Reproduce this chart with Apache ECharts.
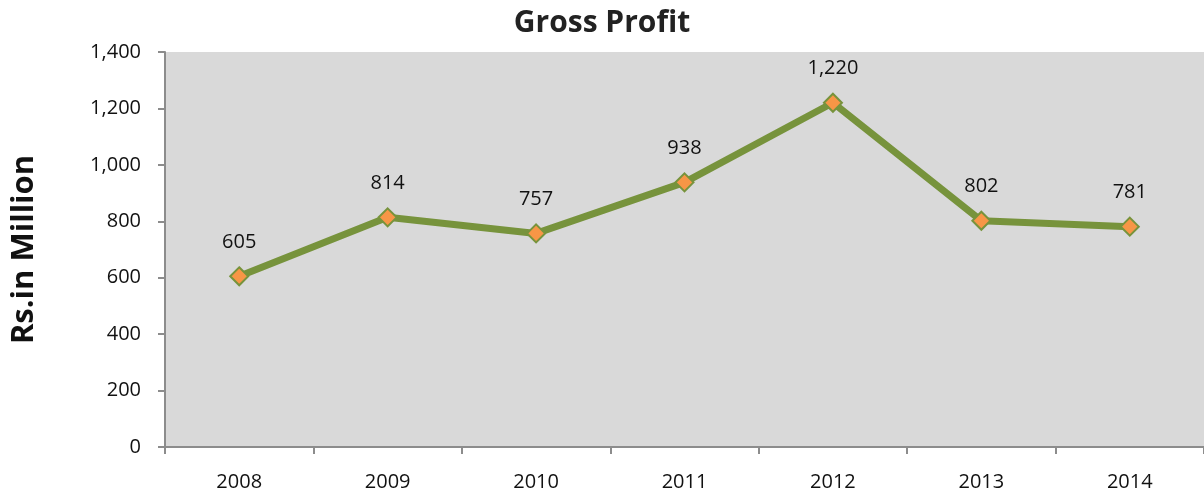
<!DOCTYPE html>
<html>
<head>
<meta charset="utf-8">
<script src="https://cdn.jsdelivr.net/npm/echarts@6/dist/echarts.min.js"></script>
<style>
html,body{margin:0;padding:0;background:#fff;}
#main{width:1204px;height:498px;}
</style>
</head>
<body>
<div id="main"></div>
<script>
var years = ['2008', '2009', '2010', '2011', '2012', '2013', '2014'];
var grossProfit = [605, 814, 757, 938, 1220, 802, 781];
var yTicks = [0, 200, 400, 600, 800, 1000, 1200, 1400];

var myChart = echarts.init(document.getElementById('main'));
var option = {
	title: {
		text: 'Gross Profit',
		left: 'center',
		top: 3,
		textStyle: { fontFamily: 'Open Sans', fontWeight: 'bold', fontSize: 30, color: '#222' }
	},
	grid: {
		left: 165,
		top: 52,
		width: 1043,
		bottom: 51,
		backgroundColor: '#d9d9d9',
		show: true,
		borderWidth: 0
	},
	xAxis: {
		type: 'category',
		data: years,
		boundaryGap: true,
		axisLine: { lineStyle: { color: '#8c8c8c', width: 2 } },
		axisTick: { show: true, length: 7, lineStyle: { color: '#8c8c8c', width: 2 } },
		axisLabel: { color: '#111', fontFamily: 'Open Sans', fontSize: 20, margin: 25 }
	},
	yAxis: {
		type: 'value',
		min: yTicks[0],
		max: yTicks[yTicks.length - 1],
		interval: 200,
		name: 'Rs.in Million',
		nameLocation: 'middle',
		nameGap: 125,
		nameTextStyle: { fontFamily: 'Open Sans', fontWeight: 'bold', fontSize: 31, color: '#111' },
		splitLine: { show: false },
		axisLine: { show: true, lineStyle: { color: '#8c8c8c', width: 2 } },
		axisTick: { show: true, length: 7, lineStyle: { color: '#8c8c8c', width: 2 } },
		axisLabel: {
			color: '#111', fontFamily: 'Open Sans', fontSize: 20, margin: 24,
			formatter: function (v) { return v.toLocaleString('en-US'); }
		}
	},
	series: [{
		name: 'Gross Profit',
		type: 'line',
		data: grossProfit,
		symbol: 'diamond',
		symbolSize: 18,
		lineStyle: { color: '#77933c', width: 7 },
		itemStyle: { color: '#f79646', borderColor: '#77933c', borderWidth: 2 },
		label: {
			show: true,
			position: 'top',
			distance: 14,
			color: '#111',
			fontFamily: 'Open Sans',
			fontSize: 20,
			formatter: function (p) { return p.value.toLocaleString('en-US'); }
		},
		animation: false
	}]
};
myChart.setOption(option);
window.addEventListener('resize', function () { myChart.resize(); });
</script>
</body>
</html>
